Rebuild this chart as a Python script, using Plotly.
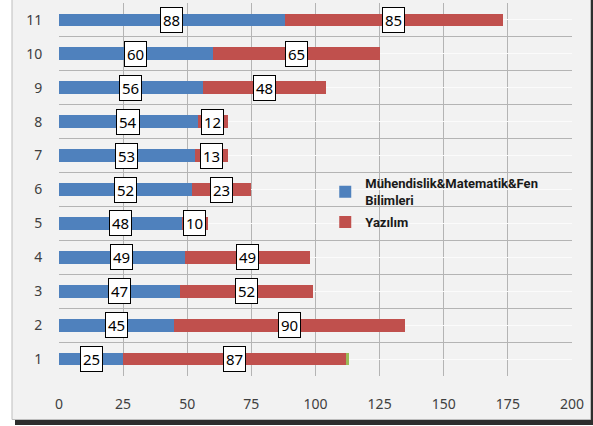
import plotly.graph_objects as go

categories = [1, 2, 3, 4, 5, 6, 7, 8, 9, 10, 11]
muhendislik = [25, 45, 47, 49, 48, 52, 53, 54, 56, 60, 88]
yazilim = [87, 90, 52, 49, 10, 23, 13, 12, 48, 65, 85]
diger = [1, None, None, None, None, None, None, None, None, None, None]
x_ticks = [0, 25, 50, 75, 100, 125, 150, 175, 200]

BLUE = "#4F81BD"
RED = "#C0504D"
GREEN = "#9BBB59"
FONT = "Noto Sans"

fig = go.Figure()
fig.add_trace(go.Bar(y=categories, x=muhendislik, orientation="h", name="Mühendislik&Matematik&Fen<br>Bilimleri",
                     legendgroup="a", marker=dict(color=BLUE, line=dict(width=0)), width=0.38))
fig.add_trace(go.Bar(y=categories, x=yazilim, orientation="h", name="Yazılım",
                     legendgroup="b", marker=dict(color=RED, line=dict(width=0)), width=0.38))
fig.add_trace(go.Bar(y=categories, x=diger, orientation="h", name="Diğer", showlegend=False,
                     legendgroup="c", marker=dict(color=GREEN, line=dict(width=0)), width=0.38))

annotations = []
for c, a, b in zip(categories, muhendislik, yazilim):
    for center, val in ((a / 2, a), (a + b / 2, b)):
        annotations.append(dict(x=center, y=c, xref="x", yref="y", text=str(val), showarrow=False,
                                font=dict(family=FONT, size=15, color="black"),
                                bgcolor="white", bordercolor="black", borderwidth=1, borderpad=2))

# plot area: 513 px wide starting at px 59, 373 px tall starting at px 3
def px_x(p):
    return (p - 59) / 513.0

def px_y(p):
    return (376 - p) / 373.0

shapes = [
    # shadow
    dict(type="rect", xref="paper", yref="paper", x0=px_x(15), x1=px_x(594), y0=px_y(425), y1=px_y(-5),
         fillcolor="#2e2e2e", line=dict(width=0), layer="below"),
    # chart area frame
    dict(type="rect", xref="paper", yref="paper", x0=px_x(12), x1=px_x(590.5), y0=px_y(419.5), y1=px_y(-5),
         fillcolor="#f2f2f2", line=dict(color="#bdbdbd", width=1), layer="below"),
]

fig.update_layout(
    barmode="stack",
    width=593, height=426,
    margin=dict(l=59, r=21, t=3, b=50, autoexpand=False),
    paper_bgcolor="white",
    plot_bgcolor="rgba(0,0,0,0)",
    font=dict(family=FONT, color="#404040"),
    showlegend=True,
    legend=dict(x=0.519, y=0.557, xanchor="left", yanchor="top", bgcolor="rgba(0,0,0,0)",
                font=dict(family="Roboto", size=13, color="#1a1a1a", weight="bold"),
                tracegroupgap=2, traceorder="grouped"),
    annotations=annotations,
    shapes=shapes,
    bargap=0.6,
)
fig.update_xaxes(range=[0, 200], tickvals=x_ticks, showgrid=True, gridcolor="#b4b4b4", gridwidth=1,
                 zeroline=False, showline=False, ticks="outside", ticklen=15, tickcolor="rgba(0,0,0,0)",
                 tickfont=dict(family=FONT, size=14, color="#404040"), automargin=False)
fig.update_yaxes(range=[0.5, 11.5], tickvals=categories, showgrid=True, gridcolor="#fbfbfb", gridwidth=1,
                 zeroline=False, showline=False, ticks="outside", ticklen=13, tickcolor="rgba(0,0,0,0)",
                 tickfont=dict(family=FONT, size=14, color="#404040"), automargin=False,
                 minor=dict(tick0=0.5, dtick=1, showgrid=True, gridcolor="#b4b4b4", gridwidth=1, ticks=""))

fig.write_html("out.html", config={"displayModeBar": False},
               post_script="document.body.style.margin='0px';")
